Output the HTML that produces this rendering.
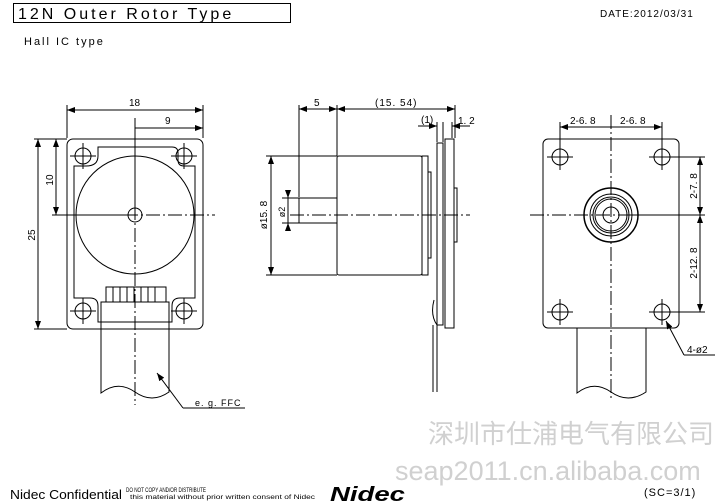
<!DOCTYPE html><html><head><style>body{margin:0;background:#fff}svg{display:block}text{font-family:"Liberation Sans",sans-serif}</style></head><body>
<svg width="727" height="502" viewBox="0 0 727 502" xmlns="http://www.w3.org/2000/svg">
<defs><marker id="a" markerWidth="8" markerHeight="6" refX="8" refY="3" orient="auto-start-reverse"><path d="M0,0L8,3L0,6z" fill="#000"/></marker></defs>
<g fill="none" stroke="#000" stroke-width="1">
<rect x="13.5" y="3.5" width="277" height="19"/>
<rect x="67" y="139" width="136" height="190" rx="6"/>
<path d="M98,147 H172 Q178,147 178,153 V160 Q178,166 184,166 H195 V298 H180 Q172,298 172,306 V322 H98 V306 Q98,298 90,298 H74 V166 H86 Q98,166 98,156 Z"/>
<circle cx="135" cy="215" r="59"/>
<circle cx="135" cy="215" r="7"/>
<circle cx="83" cy="156" r="8"/><circle cx="184" cy="156" r="8"/><circle cx="83" cy="311" r="8"/><circle cx="184" cy="311" r="8"/>
<path d="M70,156h26M83,143v26M171,156h26M184,143v26M70,311h26M83,298v26M171,311h26M184,298v26"/>
<rect x="106" y="287" width="60" height="15"/>
<path d="M113,287v15M120,287v15M127,287v15M134,287v15M141,287v15M148,287v15M155,287v15"/>
<path d="M101,302V393 Q118,380 135,392 T169,392 V302Z"/>
<path stroke-dasharray="14,3,2,3" d="M135,118V405M58,215H215"/>
<path d="M67,138V105M203,138V105M135,210V124M203,138V124M67,139H48M67,139H34M135,215H52M67,329H34"/>
<path d="M67,110H203" marker-start="url(#a)" marker-end="url(#a)"/>
<path d="M135,128H203" marker-end="url(#a)"/>
<path d="M56,139V215" marker-start="url(#a)" marker-end="url(#a)"/>
<path d="M38,139V329" marker-start="url(#a)" marker-end="url(#a)"/>
<path d="M183,408L157,373" marker-end="url(#a)"/><path d="M183,408H245"/>
<rect x="299" y="198" width="38" height="25"/>
<rect x="337" y="156" width="85" height="119" rx="2"/>
<rect x="422" y="156" width="6" height="119"/>
<path d="M428,172h3v86h-3"/>
<rect x="437" y="143" width="6" height="182"/>
<rect x="445" y="139" width="9" height="189"/>
<path d="M454,188h3v54h-3"/>
<path d="M434,300 Q430,315 437,325 M433,325V392M437,325V392"/>
<path stroke-dasharray="14,3,2,3" d="M290,215H470"/>
<path d="M299,197V105M337,156V105M455,138V105M437,142V122M443,142V122M452,138V122M337,156H266M337,275H266M299,198H282M299,223H282"/>
<path d="M299,109H337" marker-start="url(#a)" marker-end="url(#a)"/>
<path d="M337,109H455" marker-start="url(#a)" marker-end="url(#a)"/>
<path d="M418,126H437" marker-end="url(#a)"/><path d="M470,126H452" marker-end="url(#a)"/>
<path d="M271,156V275" marker-start="url(#a)" marker-end="url(#a)"/>
<path d="M288,190V198" marker-end="url(#a)"/><path d="M288,231V223" marker-end="url(#a)"/><path d="M288,198V223"/>
<rect x="543" y="139" width="136" height="189" rx="5"/>
<circle cx="560" cy="157" r="8"/><circle cx="662" cy="157" r="8"/><circle cx="560" cy="312" r="8"/><circle cx="662" cy="312" r="8"/>
<path d="M547,157h26M560,144v26M649,157h26M662,144v26M547,312h26M560,299v26M649,312h26M662,299v26"/>
<circle cx="611" cy="215" r="27" stroke-width="1.5"/><circle cx="611" cy="215" r="21"/><circle cx="611" cy="215" r="18"/><circle cx="611" cy="215" r="16"/><circle cx="611" cy="215" r="8"/>
<path d="M577,328V393 Q594,380 611,392 T646,392 V328"/>
<path stroke-dasharray="14,3,2,3" d="M611,115V400M530,215H700"/>
<path d="M560,147V122M662,147V122M670,157H705M620,215H705M670,312H705"/>
<path d="M611,127H560" marker-end="url(#a)"/><path d="M611,127H662" marker-end="url(#a)"/>
<path d="M700,157V215" marker-start="url(#a)" marker-end="url(#a)"/>
<path d="M700,215V312" marker-start="url(#a)" marker-end="url(#a)"/>
<path d="M684,355L666,321" marker-end="url(#a)"/><path d="M684,355H715"/>
</g>
<g font-size="10" fill="#000">
<text x="18" y="19" font-size="16" letter-spacing="3">12N Outer Rotor Type</text>
<text x="24" y="45" font-size="11" letter-spacing="2">Hall IC type</text>
<text x="600" y="17" font-size="10" letter-spacing="1">DATE:2012/03/31</text>
<text x="129" y="106">18</text><text x="165" y="124">9</text>
<text x="53" y="180" transform="rotate(-90 53 180)" text-anchor="middle">10</text>
<text x="35" y="235" transform="rotate(-90 35 235)" text-anchor="middle">25</text>
<text x="195" y="406" font-size="9" letter-spacing="1">e. g. FFC</text>
<text x="314" y="106">5</text><text x="375" y="106" letter-spacing="1">(15. 54)</text>
<text x="421" y="123">(1)</text><text x="458" y="124">1. 2</text>
<text x="267" y="215" transform="rotate(-90 267 215)" text-anchor="middle">ø15. 8</text>
<text x="285" y="212" transform="rotate(-90 285 212)" text-anchor="middle" font-size="9">ø2</text>
<text x="570" y="124">2-6. 8</text><text x="620" y="124">2-6. 8</text>
<text x="697" y="186" transform="rotate(-90 697 186)" text-anchor="middle">2-7. 8</text>
<text x="697" y="263" transform="rotate(-90 697 263)" text-anchor="middle">2-12. 8</text>
<text x="687" y="353">4-ø2</text>
</g>
<text x="428" y="443" font-size="26" fill="#d0d0d0" font-family="'Liberation Sans','Noto Sans CJK SC',sans-serif">深圳市仕浦电气有限公司</text>
<text x="395" y="480" font-size="27" fill="#d0d0d0">seap2011.cn.alibaba.com</text>
<text x="10" y="499" font-size="13" textLength="112" lengthAdjust="spacingAndGlyphs">Nidec Confidential</text>
<text x="126" y="492" font-size="6" textLength="80" lengthAdjust="spacingAndGlyphs">DO NOT COPY AND/OR DISTRIBUTE</text>
<text x="130" y="499" font-size="6" textLength="185" lengthAdjust="spacingAndGlyphs">this material without prior written consent of Nidec</text>
<text x="330" y="501" font-size="20" font-weight="bold" font-style="italic" textLength="75" lengthAdjust="spacingAndGlyphs">Nidec</text>
<text x="644" y="496" font-size="11" letter-spacing="1">(SC=3/1)</text>
</svg></body></html>
